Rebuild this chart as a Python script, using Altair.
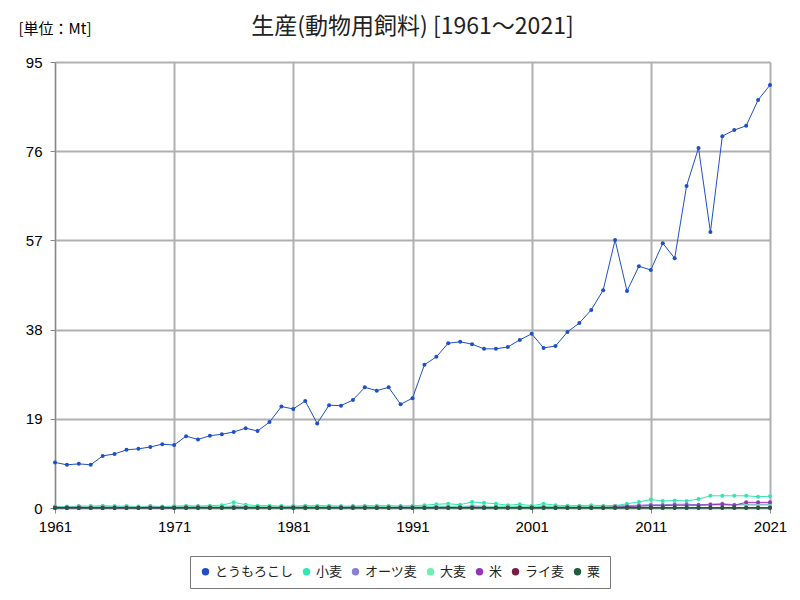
import altair as alt
import pandas as pd

years = list(range(1961, 2022))

corn = [9.7, 9.2, 9.4, 9.2, 11.1, 11.5, 12.4, 12.6, 13.0, 13.6, 13.4, 15.3, 14.6, 15.4, 15.7,
        16.2, 17.0, 16.4, 18.3, 21.6, 21.1, 22.8, 18.0, 21.9, 21.8, 23.0, 25.7, 25.0, 25.7, 22.1,
        23.4, 30.5, 32.2, 35.1, 35.4, 34.9, 33.9, 33.9, 34.3, 35.8, 37.1, 34.1, 34.5, 37.5, 39.4,
        42.2, 46.4, 57.1, 46.2, 51.5, 50.7, 56.4, 53.2, 68.6, 76.7, 58.8, 79.2, 80.5, 81.4, 86.9, 90.1]

wheat = [0.3, 0.3, 0.4, 0.4, 0.5, 0.4, 0.4, 0.3, 0.4, 0.3, 0.4, 0.5, 0.4, 0.5, 0.6,
         1.2, 0.7, 0.5, 0.5, 0.4, 0.4, 0.5, 0.5, 0.5, 0.4, 0.4, 0.5, 0.5, 0.5, 0.4,
         0.5, 0.6, 0.8, 0.9, 0.7, 1.3, 1.1, 0.9, 0.6, 0.8, 0.5, 0.9, 0.6, 0.5, 0.5,
         0.6, 0.5, 0.5, 0.9, 1.3, 1.8, 1.5, 1.6, 1.5, 1.9, 2.6, 2.6, 2.6, 2.6, 2.4, 2.5]

oats = [0.2, 0.2, 0.3, 0.3, 0.3, 0.2, 0.2, 0.2, 0.3, 0.2, 0.2, 0.3, 0.3, 0.3, 0.2,
        0.3, 0.3, 0.2, 0.2, 0.2, 0.3, 0.3, 0.3, 0.3, 0.2, 0.3, 0.3, 0.3, 0.2, 0.3,
        0.3, 0.3, 0.3, 0.3, 0.3, 0.3, 0.3, 0.2, 0.3, 0.3, 0.3, 0.3, 0.3, 0.3, 0.3,
        0.3, 0.3, 0.4, 0.5, 0.6, 0.7, 0.7, 0.8, 0.8, 0.7, 0.8, 0.9, 0.7, 0.8, 0.8, 0.8]

barley = [0.2, 0.2, 0.2, 0.3, 0.3, 0.2, 0.2, 0.3, 0.2, 0.2, 0.2, 0.3, 0.2, 0.3, 0.3,
          0.5, 0.4, 0.3, 0.3, 0.2, 0.2, 0.3, 0.3, 0.3, 0.2, 0.2, 0.3, 0.3, 0.3, 0.2,
          0.3, 0.3, 0.4, 0.4, 0.3, 0.5, 0.4, 0.3, 0.3, 0.3, 0.3, 0.4, 0.3, 0.3, 0.3,
          0.3, 0.3, 0.3, 0.4, 0.4, 0.5, 0.5, 0.5, 0.5, 0.5, 0.6, 0.6, 0.6, 0.6, 0.6, 0.6]

rice = [0.0, 0.0, 0.0, 0.0, 0.0, 0.0, 0.0, 0.0, 0.0, 0.0, 0.0, 0.1, 0.1, 0.1, 0.1,
        0.1, 0.1, 0.1, 0.1, 0.1, 0.1, 0.1, 0.1, 0.1, 0.1, 0.1, 0.1, 0.1, 0.1, 0.1,
        0.1, 0.1, 0.1, 0.1, 0.1, 0.1, 0.1, 0.1, 0.1, 0.1, 0.1, 0.1, 0.1, 0.1, 0.1,
        0.1, 0.1, 0.2, 0.3, 0.4, 0.5, 0.5, 0.6, 0.6, 0.6, 0.7, 0.8, 0.6, 1.2, 1.2, 1.2]

rye = [0.1, 0.1, 0.1, 0.1, 0.1, 0.1, 0.1, 0.1, 0.1, 0.1, 0.1, 0.1, 0.1, 0.1, 0.1,
       0.1, 0.1, 0.1, 0.1, 0.1, 0.1, 0.1, 0.1, 0.1, 0.1, 0.1, 0.1, 0.1, 0.1, 0.1,
       0.1, 0.1, 0.1, 0.1, 0.1, 0.1, 0.1, 0.1, 0.1, 0.1, 0.1, 0.1, 0.1, 0.1, 0.1,
       0.1, 0.1, 0.1, 0.1, 0.1, 0.1, 0.1, 0.1, 0.1, 0.1, 0.1, 0.1, 0.1, 0.1, 0.1, 0.1]

millet = [0.0] * 61

series_names = ["とうもろこし", "小麦", "オーツ麦", "大麦", "米", "ライ麦", "粟"]
series_values = [corn, wheat, oats, barley, rice, rye, millet]
series_colors = ["#1f4fc4", "#33e6b0", "#8a7fd0", "#6cf0b0", "#9236b8", "#7a1d42", "#1f5c40"]

rows = []
for name, vals in zip(series_names, series_values):
    for y, v in zip(years, vals):
        rows.append({"year": y, "value": v, "series": name})
df = pd.DataFrame(rows)

FONT = "Noto Sans CJK JP"

color = alt.Color(
    "series:N",
    scale=alt.Scale(domain=series_names, range=series_colors),
    sort=series_names,
    legend=alt.Legend(
        title=None, orient="none", direction="horizontal",
        legendX=135, legendY=494,
        symbolType="circle", symbolSize=55, symbolStrokeWidth=0,
        labelFont=FONT, labelFontSize=13, labelColor="#222",
        strokeColor="#777", padding=9, columnPadding=6, labelOffset=3,
        labelLimit=200,
    ),
)

x = alt.X("year:Q", scale=alt.Scale(domain=[1961, 2021], nice=False, zero=False),
          axis=alt.Axis(values=list(range(1961, 2022, 10)), format="d", title=None,
                        labelFontSize=15, labelPadding=6, labelFlush=False,
                        gridColor="#b0b0b0", gridWidth=2))
y = alt.Y("value:Q", scale=alt.Scale(domain=[0, 95], nice=False),
          axis=alt.Axis(values=[0, 19, 38, 57, 76, 95], title="[単位：Mt]",
                        titleAngle=0, titleAlign="left", titleX=-37, titleY=-26,
                        titleFont=FONT, titleFontSize=15, titleFontWeight="normal",
                        labelFontSize=15, labelPadding=8,
                        gridColor="#b0b0b0", gridWidth=2))

base = alt.Chart(df)

lines = base.mark_line(strokeWidth=1).encode(x=x, y=y, color=color, detail="series:N")
points = base.mark_point(filled=True, size=16, opacity=1).encode(x=x, y=y, color=color)

chart = alt.layer(lines, points).properties(
    width=715, height=446,
    title=alt.TitleParams("生産(動物用飼料) [1961～2021]", font=FONT, fontSize=23,
                          fontWeight="normal", anchor="middle", offset=0, dy=18, color="#222"),
    autosize=alt.AutoSizeParams(type="none"),
    padding={"left": 55, "top": 62, "right": 30, "bottom": 92},
).configure_view(stroke="#6a6a6a", strokeWidth=2).configure_axis(
    domain=False, tickSize=0,
    labelFont="Liberation Sans", labelColor="#222", titleColor="#222",
).configure(background="white")

chart.save("out.html", embed_options={"renderer": "svg", "actions": False})
